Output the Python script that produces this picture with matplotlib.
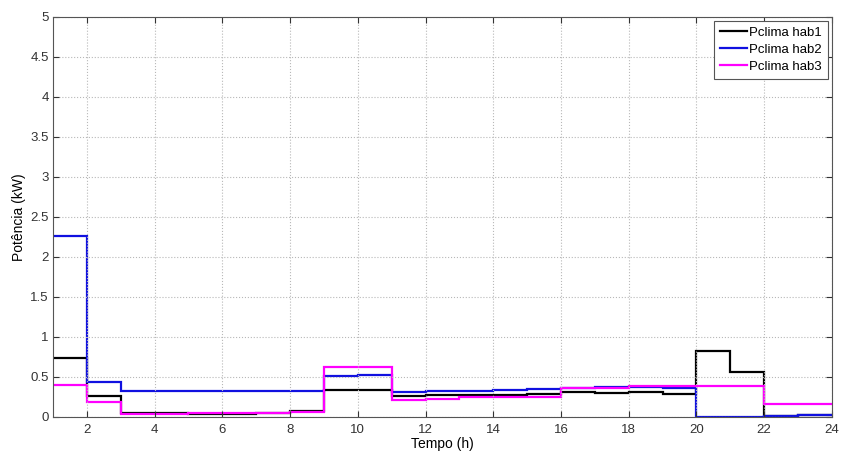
import numpy as np
import matplotlib
matplotlib.use("Agg")
import matplotlib.pyplot as plt

plt.rcParams["font.family"] = ["Liberation Sans", "DejaVu Sans"]

# hourly power per room, held from hour h to h+1
hours = np.arange(1, 25)
hab1 = [0.74, 0.26, 0.05, 0.05, 0.04, 0.04, 0.05, 0.08, 0.34, 0.34, 0.26, 0.27,
        0.27, 0.28, 0.29, 0.31, 0.30, 0.31, 0.29, 0.82, 0.56, 0.01, 0.02]
hab2 = [2.26, 0.44, 0.32, 0.32, 0.32, 0.33, 0.32, 0.33, 0.51, 0.52, 0.31, 0.32,
        0.33, 0.34, 0.35, 0.36, 0.37, 0.37, 0.36, 0.0, 0.0, 0.01, 0.02]
hab3 = [0.40, 0.19, 0.04, 0.04, 0.05, 0.05, 0.05, 0.06, 0.62, 0.62, 0.21, 0.22,
        0.25, 0.25, 0.25, 0.36, 0.36, 0.39, 0.39, 0.39, 0.39, 0.16, 0.16]
labels = ["Pclima hab1", "Pclima hab2", "Pclima hab3"]
colors = ["#000000", "#1010e0", "#ff00ff"]

fig = plt.figure(figsize=(8.42, 4.51), dpi=100)
ax = fig.add_axes([0.063, 0.0754, 0.925, 0.887])

for vals, lbl, col in zip([hab1, hab2, hab3], labels, colors):
    ax.stairs(vals, hours, color=col, lw=1.6, label=lbl, baseline=None)

ax.set_xlim(1, 24)
ax.set_ylim(0, 5)
ax.set_xticks(np.arange(2, 25, 2))
ax.set_yticks(np.arange(0, 5.01, 0.5))
ax.set_yticklabels(["0", "0.5", "1", "1.5", "2", "2.5", "3", "3.5", "4", "4.5", "5"])
ax.grid(True, ls=":", color="#b8b8b8", lw=0.8)
ax.tick_params(direction="in", length=4, labelsize=9.5, colors="#333333",
               top=True, right=True, pad=3)
ax.tick_params(axis="x", pad=5)
for s in ax.spines.values():
    s.set_color("#555555")
ax.set_xlabel("Tempo (h)", fontsize=10, labelpad=1)
ax.set_ylabel("Potência (kW)", fontsize=10, labelpad=3)

leg = ax.legend(loc="upper right", fontsize=9.5, fancybox=False, framealpha=1,
                borderaxespad=0.3, handlelength=2.0, handletextpad=0.2,
                borderpad=0.45, labelspacing=0.35)
leg.get_frame().set_edgecolor("#555555")
leg.get_frame().set_linewidth(0.8)

fig.savefig("out.png", dpi=100)
